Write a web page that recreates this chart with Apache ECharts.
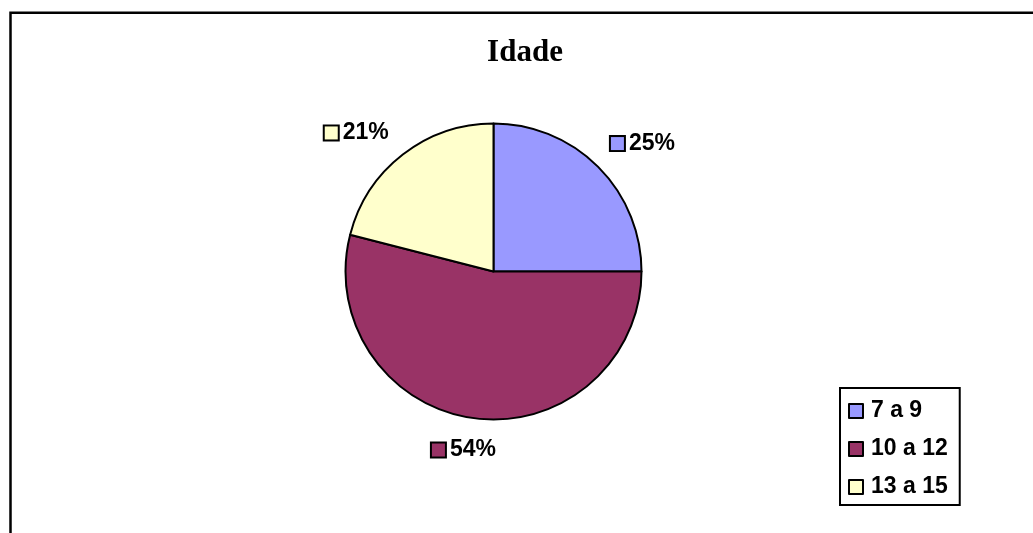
<!DOCTYPE html>
<html>
<head>
<meta charset="utf-8">
<script src="https://cdn.jsdelivr.net/npm/echarts@6/dist/echarts.min.js"></script>
<style>
html,body{margin:0;padding:0;background:#fff;}
#chart{width:1033px;height:533px;}
</style>
</head>
<body>
<div id="chart"></div>
<script>
const title = 'Idade';
const categories = ['7 a 9', '10 a 12', '13 a 15'];
const values = [25, 54, 21];
const colors = ['#9999FF', '#993366', '#FFFFCC'];

const labelOffsets = [[11.5, 5], [-1, -8], [-16.5, 10]];

const chart = echarts.init(document.getElementById('chart'));
const rich = {
  t: {fontSize: 23, fontWeight: 'bold', fontFamily: 'Liberation Sans, Arial, sans-serif', color: '#000', padding: [0, 0, 0, 5]}
};
colors.forEach((c, i) => {
  rich['m' + i] = {width: 13, height: 13, backgroundColor: c, borderColor: '#000', borderWidth: 2};
});

chart.setOption({
  animation: false,
  title: {
    text: title,
    left: 520,
    top: 32,
    textAlign: 'center',
    textStyle: {fontFamily: 'Liberation Serif, Times New Roman, serif', fontWeight: 'bold', fontSize: 31, color: '#000'}
  },
  graphic: [{
    type: 'rect',
    shape: {x: 10.5, y: 12.8, width: 1200, height: 700},
    style: {fill: 'none', stroke: '#000', lineWidth: 2.5},
    silent: true
  }],
  legend: {
    orient: 'vertical',
    left: 840,
    top: 388,
    data: categories,
    icon: 'rect',
    itemWidth: 14,
    itemHeight: 14,
    itemGap: 14,
    padding: [11, 12, 6, 8],
    borderColor: '#000',
    borderWidth: 2,
    borderRadius: 0,
    itemStyle: {borderColor: '#000', borderWidth: 2},
    textStyle: {fontSize: 23, fontWeight: 'bold', fontFamily: 'Liberation Sans, Arial, sans-serif', color: '#000', lineHeight: 24, padding: [0, 0, 0, 3]}
  },
  series: [{
    type: 'pie',
    center: [493.5, 271.5],
    radius: 148,
    startAngle: 90,
    clockwise: true,
    avoidLabelOverlap: false,
    itemStyle: {borderColor: '#000', borderWidth: 2},
    label: {
      show: true,
      position: 'outside',
      formatter: p => '{m' + p.dataIndex + '|}{t|' + Math.round(p.percent) + '%}',
      rich: rich
    },
    labelLine: {show: false, length: 40, length2: 0},
    labelLayout: p => ({align: 'center', verticalAlign: 'middle', dx: labelOffsets[p.dataIndex][0], dy: labelOffsets[p.dataIndex][1]}),
    emphasis: {disabled: true},
    data: categories.map((c, i) => ({name: c, value: values[i], itemStyle: {color: colors[i]}}))
  }]
});
</script>
</body>
</html>
